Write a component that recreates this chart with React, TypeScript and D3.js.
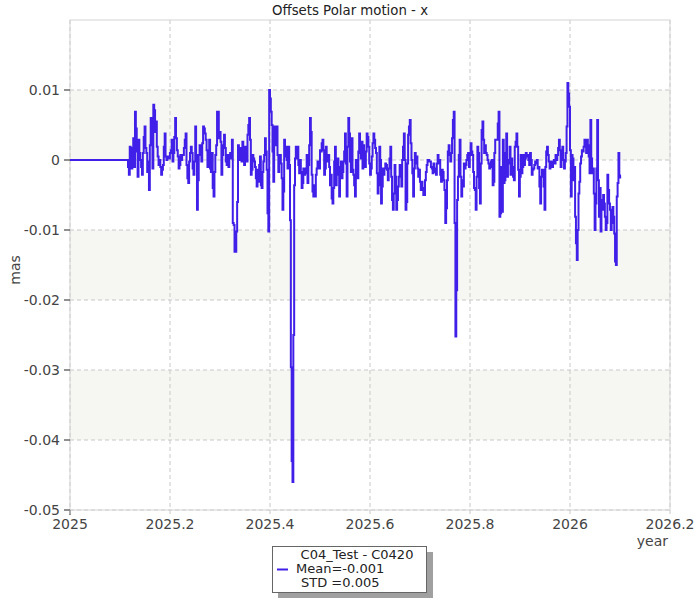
import React from "react";
import * as d3 from "d3";

// ---- data (values in units of 0.001 mas) ----
const leadStart = 2025.0;
const segBounds = [2025.116, 2025.35, 2025.59, 2025.83, 2026.102];

const segA = [-1, -2.1, 1.9, 1.2, -1.2, 1.7, 3.1, -1, 6.9, 4.5, 1.2, -2.4, 2.9, 1, 0, -1, -2.1, 1, 3.3, 4.8, 1.7, 1, -1.7, -0.2, -4.3, 2.1, 6, 3.1, -1.2, 7.9, 7.1, 4, 5.5, 1.9, 0.5, -0.7, 0, -1, -2.1, -1.4, -0.7, 1.9, 3.8, 0.5, 0, 0.5, 0.2, 0.2, 1, 1.4, 2.9, -0.2, 1, 3.3, 6, 3.1, 1.4, 0.5, -1.2, -0.7, 0.7, 0, 0.7, 0.7, 1.7, 2.9, 3.8, -0.7, -2.6, -3.3, -0.2, 1, 1.9, 1, -1.2, -2.1, -0.2, 4.8, 0.7, -7.1, -2.9, 0.7, 2.1, 0.7, -0.2, 2.4, 4.8, 4.5, 3.8, 2.9, 1.4, -1, 1, 2.9, -1.2, -1.7, 1, -4, -5.2, -1.7, 0.7, 2.1, 6.9, 6.9, 3.1, 4, 2.6, -2.1, 0.7, 2.1, 3.6, 1.7, -0.2, -0.7, 0.7, -1, 0.5, 1, 0.2, 2.9, -9, -9.3, -13.1, -13.1, -10.2, -6, 2.1, 0, 1.7, 0.7, -0.2, 2.6, 1.7, -0.7];

const segB = [1.9, 1.2, -0.2, 3.6, 5, 6, 2.9, -2.1, -1.4, 0.7, 0.2, -0.2, -1, -2.6, -3.8, -1.4, -3.1, -0.7, 0.5, -3.6, -4, -1.7, -0.2, 0.7, 3.1, 1.2, -1.4, -7.6, -10.2, 10, 8.8, 6.9, 5, 1.2, -3.1, 4.8, 3.6, 2.1, 4.8, 0.7, -1.7, -0.2, 0.7, -0.5, -2.6, -7.1, -4.5, 2.9, 0.5, 1.9, 0, -1.2, 1.9, -0.7, -8.6, -29.6, -43, -46, -25, -3.6, 0.2, 1.9, 0.2, 1.9, -0.7, -1.9, 0, -1.7, -4, -3.3, -1.2, -2.1, -1.9, -1.2, 0.7, -3.3, -0.7, 2.1, 6, 4, -2.1, -4.5, -5.2, -3.6, -5.2, -2.1, -1.2, -0.2, -0.5, -1.2, 1.4, 1.2, 2.4, 2.9, 1.4, -2.1, -1.2, 1.9, 0.7, -0.2, 0.7, -1, -3.6, -2.1, -5.5, -6.2, -4, -0.2, 1.9, -3.6, -1.7, 0.2, -2.1, -5.2, -1, -0.2, -2.6, -1.7, -0.2, 1.2, 3.8, -0.5, -5.2, 1.9, 6, 3.8, -0.2, -1.7, 3.1, -1.4, -2.1, -3.6, -5.2, 0, -1.2, -2.6, 1.2, 3.8, 1, 0.2, 2.6, -1.2, 2.1, 1.2];

const segC = [-1, 1.2, 3.8, 3.3, 1.9, -0.5, -2.1, -1.2, 0.5, 2.4, 3.8, 2.9, 1.7, 1, -1.9, -4.8, -3.6, 1.9, 0, -6.2, -3.8, -1.2, -2.1, -1.2, -0.5, -0.7, -1.4, -2.9, -1.2, 0.2, 1.9, -2.4, -5.7, -7.1, -4.8, -0.7, -2.4, -7.1, -5.7, -3.8, -2.4, -0.7, -2.4, -3.8, 0, 1.9, 3.8, 0, -7.1, -6, -0.5, 3.6, 4.8, 5.7, 2.4, 0, -1.9, -5.2, -1.2, 1, -0.5, 0.5, -1.2, -2.4, -1.4, -3.1, -4.3, -3.1, -4, -5, -5, -2.9, -1.7, -0.7, 0, 0, -0.2, -0.2, -1, -1.2, -1.9, -0.5, -1.2, -1.7, -2.1, -0.5, 0.7, -0.5, 0, -2.1, -3.1, -1.4, -1.7, -2.9, -4.3, -9, -6.9, -2.9, 1.2, 2.1, 0.7, -0.2, 1, 3.1, 5.7, 6.9, -9, -25.2, -18.6, -5.7, -2.4, 0.7, 2.9, -2.4, -5.2, -2.9, -3.8, -0.5, -1.2, -0.7, 0, 0.7, 1, -1, 0.7, 2.4, 1.2, 0.7, -1.7, -4, -4.3, -7.1, -2.4, 1.9, 1, -4, -6.2, -0.5, 4.3, 5.5, 2.9, 1];

const segD = [2.1, 1, 0.7, 0, -0.5, -1.2, -1, -0.2, 0, -3.6, -3.1, 1, 2.9, 2.9, 2.9, 5.2, 6.9, -8.1, -7.6, -1, -7.4, 2.9, -3.3, -2.9, 1, 3.8, -2.4, -0.5, 0, 1.9, -2.1, 0.2, -1, -2.4, -2.9, 1.9, 2.6, 3.8, 1.9, -1.4, -5.2, -2.4, 0.7, -1.9, -1, 0.7, -0.7, 0.2, 1, 0.5, 0.7, 0, -0.7, 1, 0, -2.1, -1.4, -1.2, -0.7, -0.2, -0.5, 0, -1.2, -1, -3.8, -6.2, -2.4, -1.4, -1.4, -3.8, -7.1, -1, 1.2, 1.9, 0.7, -0.2, -1.2, -0.7, -0.2, -1, -0.2, 0, -0.5, 0.7, 0, 0.7, 1.7, 2.9, 1.4, -1, 1, 1.9, 0, -1.2, -0.2, 1, 4.8, 11, 9.5, 7.6, 1.4, -5.2, 0.7, 0.2, -2.9, -1, -8.1, -11.9, -14.3, -10, -4.8, -3.1, -0.5, 0.5, 1.4, 1.2, 1.9, 2.9, 1.9, 1, 2.9, 2.1, 0.5, -1.9, 5.7, 0.2, -1.9, -1.2, -4.8, -10, -6.2, -1.2, 5.7, -2.9, -8.1, -4, -10.2, -5.7, -7.1, -5, -6.2, -8.1, -10, -9, -2.1, -4.3, -6.2, -7.1, -10, -9, -6.7, -8.1, -10.5, -14.5, -15, -5.2, -3.3, 1, -2.5, -2.2];

const xTicks = [2025, 2025.2, 2025.4, 2025.6, 2025.8, 2026, 2026.2];
const xTickLabels = ["2025", "2025.2", "2025.4", "2025.6", "2025.8", "2026", "2026.2"];
const yTicks = [0.01, 0, -0.01, -0.02, -0.03, -0.04, -0.05];
const yTickLabels = ["0.01", "0", "-0.01", "-0.02", "-0.03", "-0.04", "-0.05"];
const bands = [[0, 0.01], [-0.02, -0.01], [-0.04, -0.03]];

const title = "Offsets Polar motion - x";
const legendLines = ["C04_Test - C0420", "Mean=-0.001", "STD =0.005"];

function buildSeries(): [number, number][] {
  const pts: [number, number][] = [[leadStart, 0]];
  const segs = [segA, segB, segC, segD];
  segs.forEach((seg, k) => {
    const s = segBounds[k];
    const e = segBounds[k + 1];
    const step = (e - s) / seg.length;
    seg.forEach((v, i) => pts.push([s + i * step, v / 1000]));
  });
  const last = segD[segD.length - 1];
  pts.push([segBounds[segBounds.length - 1], last / 1000]);
  return pts;
}

export default function App() {
  const W = 700, H = 600;
  const L = 70, R = 670, T = 20, B = 510;
  const x = d3.scaleLinear().domain([2025, 2026.2]).range([L, R]);
  const y = d3.scaleLinear().domain([-0.05, 0.02]).range([B, T]);
  const data = buildSeries();
  const line = d3
    .line<[number, number]>()
    .x((d) => x(d[0]))
    .y((d) => y(d[1]))
    .curve(d3.curveStepAfter);
  const font = "'DejaVu Sans', Verdana, sans-serif";
  const color = "#4020e8";

  return (
    <svg width={W} height={H} style={{ display: "block", position: "absolute", left: 0, top: 0 }} fontFamily={font}>
      <rect x={0} y={0} width={W} height={H} fill="#fff" />
      <defs>
        <clipPath id="plot">
          <rect x={L} y={T} width={R - L} height={B - T} />
        </clipPath>
      </defs>
      {bands.map((b, i) => (
        <rect key={i} x={L} width={R - L} y={y(b[1])} height={y(b[0]) - y(b[1])} fill="#f6f6f2" />
      ))}
      {xTicks.map((t, i) => (
        <line key={"gx" + i} x1={x(t)} x2={x(t)} y1={T} y2={B} stroke="#c8c8c8" strokeDasharray="4,3" />
      ))}
      {yTicks.map((t, i) => (
        <line key={"gy" + i} x1={L} x2={R} y1={y(t)} y2={y(t)} stroke="#c8c8c8" strokeDasharray="4,3" />
      ))}
      <rect x={L} y={T} width={R - L} height={B - T} fill="none" stroke="#d4d4d4" />
      <path d={line(data) || ""} fill="none" stroke={color} strokeWidth={2} clipPath="url(#plot)" />
      <line x1={L} x2={L} y1={B} y2={B + 5} stroke="#222" />
      {yTicks.map((t, i) => (
        <g key={"ty" + i}>
          <line x1={L - 6} x2={L} y1={y(t)} y2={y(t)} stroke="#222" />
          <text x={L - 10} y={y(t)} dy="0.35em" textAnchor="end" fontSize={14} fill="#444">
            {yTickLabels[i]}
          </text>
        </g>
      ))}
      {xTicks.map((t, i) => (
        <g key={"tx" + i}>
          <line x1={x(t)} x2={x(t)} y1={B} y2={B + 4} stroke="#c8c8c8" />
          <text x={x(t)} y={529} textAnchor="middle" fontSize={14} fill="#444">
            {xTickLabels[i]}
          </text>
        </g>
      ))}
      <text x={668} y={546} textAnchor="end" fontSize={14} fill="#444">year</text>
      <text transform={`translate(20,270) rotate(-90)`} textAnchor="middle" fontSize={14} fill="#444">mas</text>
      <text x={350} y={15} textAnchor="middle" fontSize={13.3} fill="#222">{title}</text>
      <g>
        <rect x={278} y={552} width={155} height={46} fill="#a0a0a0" />
        <rect x={272.5} y={546.5} width={154} height={46} fill="#fff" stroke="#666" />
        <line x1={277} x2={288} y1={569.5} y2={569.5} stroke={color} strokeWidth={2} />
        <text x={357} y={559} textAnchor="middle" fontSize={13} fill="#222">{legendLines[0]}</text>
        <text x={296} y={573} fontSize={13} fill="#222">{legendLines[1]}</text>
        <text x={301} y={586.5} fontSize={13} fill="#222">{legendLines[2]}</text>
      </g>
    </svg>
  );
}
